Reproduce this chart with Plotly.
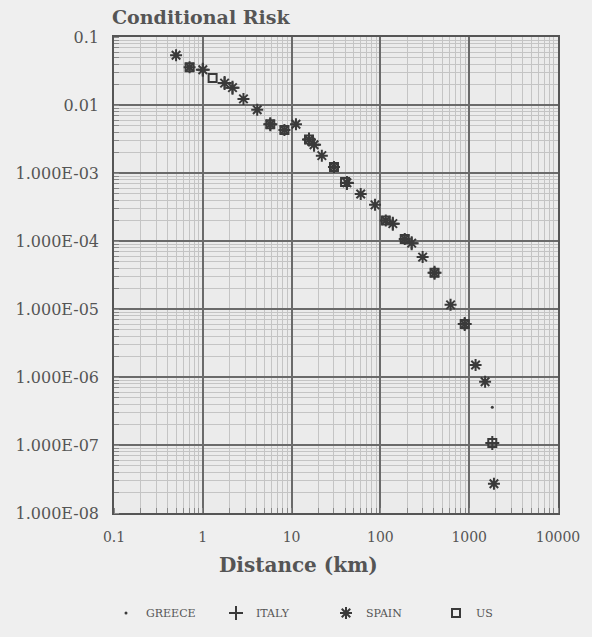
import plotly.graph_objects as go

# Distances (km) and conditional risk values, per country
spain_x = [0.50, 0.71, 1.0, 1.76, 2.16, 2.87, 4.1, 5.75, 8.3, 11.2, 15.7, 17.9, 21.9, 30, 42, 60, 87,
           115, 138, 188, 225, 299, 407, 617, 890, 1180, 1510, 1900]
spain_y = [0.054, 0.036, 0.033, 0.021, 0.018, 0.0123, 0.0085, 0.0052, 0.0043, 0.0052, 0.0031, 0.0026,
           0.0018, 0.00123, 7.2e-4, 4.9e-4, 3.4e-4, 2.0e-4, 1.8e-4, 1.07e-4, 9.3e-5, 5.8e-5, 3.4e-5,
           1.15e-5, 6.0e-6, 1.5e-6, 8.5e-7, 2.7e-8]

us_x = [0.71, 1.29, 5.75, 8.3, 15.7, 30, 40, 115, 188, 407, 890, 1820]
us_y = [0.036, 0.025, 0.0052, 0.0043, 0.0031, 0.00123, 7.4e-4, 2.0e-4, 1.07e-4, 3.4e-5, 6.0e-6, 1.07e-7]

italy_x = [1.0, 1.76, 2.16, 5.75, 15.7, 17.9, 42, 138, 225, 407, 890, 1820]
italy_y = [0.033, 0.021, 0.018, 0.0052, 0.0031, 0.0026, 7.1e-4, 1.8e-4, 9.3e-5, 3.4e-5, 6.0e-6, 1.07e-7]

greece_x = [5.75, 15.7, 40, 115, 407, 890, 1820]
greece_y = [0.0052, 0.0031, 7.4e-4, 2.0e-4, 3.4e-5, 6.0e-6, 3.6e-7]

y_tickvals = [1e-8, 1e-7, 1e-6, 1e-5, 1e-4, 1e-3, 1e-2, 1e-1]
y_ticktext = ["1.000E-08", "1.000E-07", "1.000E-06", "1.000E-05", "1.000E-04", "1.000E-03", "0.01", "0.1"]
x_tickvals = [0.1, 1, 10, 100, 1000, 10000]
x_ticktext = ["0.1", "1", "10", "100", "1000", "10000"]

ink = "#3a3a3a"
txt = "#555555"
serif = "DejaVu Serif, Liberation Serif, serif"

fig = go.Figure()
fig.add_trace(go.Scatter(x=greece_x, y=greece_y, mode="markers", name="GREECE",
                         marker=dict(symbol="circle", size=3, color=ink)))
fig.add_trace(go.Scatter(x=italy_x, y=italy_y, mode="markers", name="ITALY",
                         marker=dict(symbol="cross-thin-open", size=10, color=ink, line=dict(color=ink, width=2))))
fig.add_trace(go.Scatter(x=spain_x, y=spain_y, mode="markers", name="SPAIN",
                         marker=dict(symbol="asterisk-open", size=10, color=ink, line=dict(color=ink, width=2))))
fig.add_trace(go.Scatter(x=us_x, y=us_y, mode="markers", name="US",
                         marker=dict(symbol="square-open", size=8, color=ink, line=dict(color=ink, width=2))))

grid_major = "#6a6a6a"
grid_minor = "#c4c4c4"

fig.update_layout(
    width=592, height=637,
    margin=dict(l=114, r=32, t=37, b=124),
    paper_bgcolor="#efefef",
    plot_bgcolor="#ebebeb",
    font=dict(family=serif, color=txt),
    title=dict(text="<b>Conditional Risk</b>", x=112 / 592, xanchor="left", y=1 - 17 / 637, yanchor="middle",
               font=dict(family=serif, size=19, color=txt)),
    xaxis=dict(type="log", range=[-1, 4], tickvals=x_tickvals, ticktext=x_ticktext,
               showgrid=True, gridcolor=grid_major, gridwidth=1.5,
               showline=True, linecolor="#555555", linewidth=1.5, mirror=True,
               ticks="", ticklabelstandoff=10,
               tickfont=dict(family=serif, size=14, color=txt),
               minor=dict(dtick="D1", showgrid=True, gridcolor=grid_minor, gridwidth=1,
                          ticks="inside", ticklen=5, tickcolor="#888888"),
               zeroline=False),
    yaxis=dict(type="log", range=[-8, -1], tickvals=y_tickvals, ticktext=y_ticktext,
               showgrid=True, gridcolor=grid_major, gridwidth=1.5,
               showline=True, linecolor="#555555", linewidth=1.5, mirror=True,
               ticks="", ticklabelstandoff=10,
               tickfont=dict(family=serif, size=16, color=txt),
               minor=dict(dtick="D1", showgrid=True, gridcolor=grid_minor, gridwidth=1,
                          ticks="inside", ticklen=5, tickcolor="#888888"),
               zeroline=False),
    legend=dict(orientation="h", xref="container", yref="container",
                x=106 / 592, xanchor="left", y=1 - 613 / 637, yanchor="middle",
                font=dict(family=serif, size=11, color=txt),
                bgcolor="rgba(0,0,0,0)", entrywidth=65, itemwidth=30),
    showlegend=True,
    annotations=[dict(text="<b>Distance (km)</b>", xref="paper", yref="paper",
                      x=(299 - 114) / 446, y=-(565 - 513) / 476, xanchor="center", yanchor="middle",
                      showarrow=False, font=dict(family=serif, size=20, color=txt))],
)

fig.write_html("out.html")
